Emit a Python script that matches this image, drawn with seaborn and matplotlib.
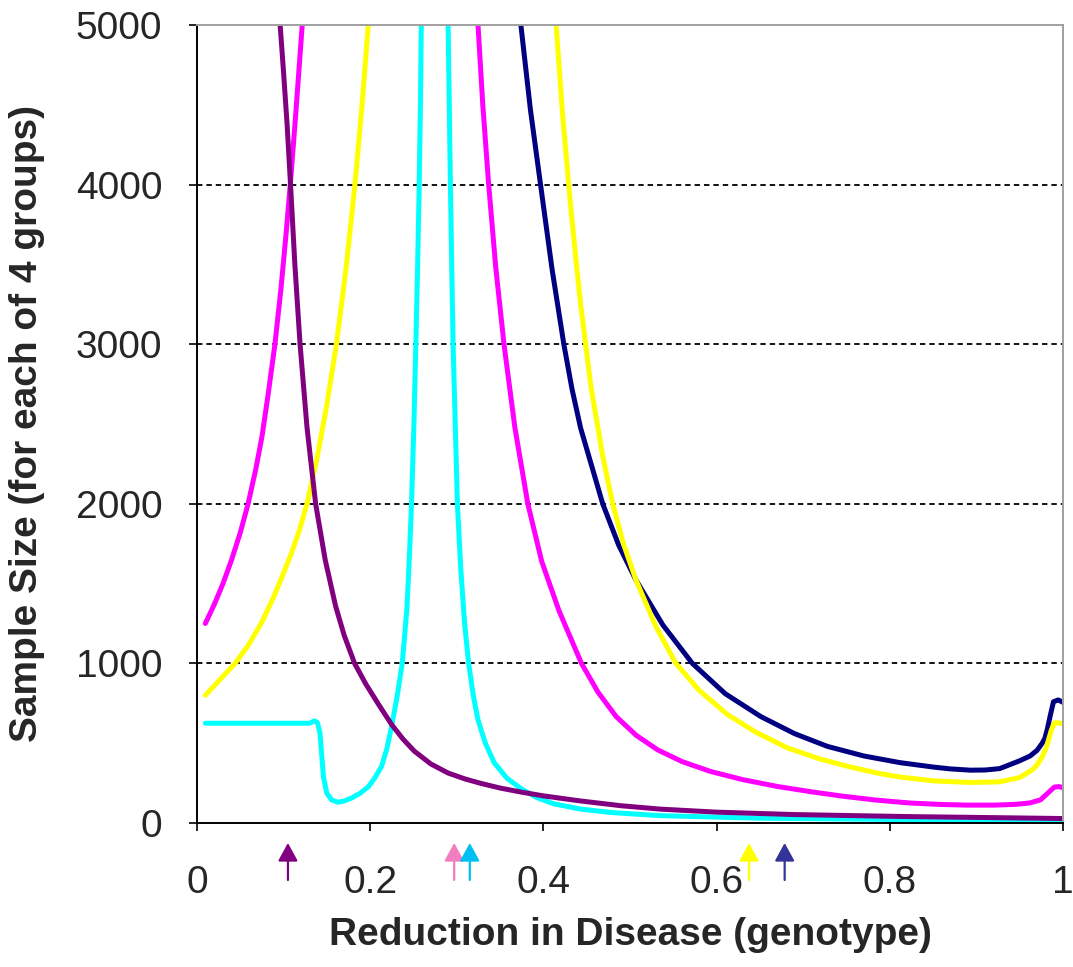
import pandas as pd
import matplotlib
matplotlib.use("Agg")
import matplotlib.pyplot as plt
import seaborn as sns

# curve values (x = reduction in disease, y = sample size)
purple_x = [0.096, 0.100, 0.104, 0.108, 0.113, 0.119, 0.127, 0.137, 0.148, 0.160, 0.170,
            0.182, 0.195, 0.210, 0.225, 0.238, 0.251, 0.270, 0.290, 0.310, 0.328, 0.350,
            0.374, 0.400, 0.443, 0.490, 0.535, 0.600, 0.689, 0.760, 0.824, 0.900, 1.0]
purple_y = [5000, 4700, 4380, 4000, 3500, 3000, 2480, 2000, 1650, 1360, 1175,
            1000, 870, 740, 615, 525, 450, 370, 313, 275, 248, 219,
            194, 170, 138, 108, 87, 68, 53, 46, 40, 35, 28]

magenta_left_x = [0.0096, 0.020, 0.030, 0.040, 0.050, 0.059, 0.068, 0.075, 0.082, 0.090,
                  0.097, 0.103, 0.108, 0.114, 0.1215]
magenta_left_y = [1250, 1370, 1500, 1650, 1820, 2000, 2220, 2420, 2680, 3000,
                  3350, 3700, 4020, 4440, 5000]
magenta_right_x = [0.3245, 0.330, 0.3368, 0.345, 0.3545, 0.367, 0.382, 0.398, 0.418, 0.444,
                   0.463, 0.484, 0.507, 0.532, 0.560, 0.593, 0.630, 0.670, 0.710, 0.747,
                   0.785, 0.824, 0.860, 0.889, 0.920, 0.946, 0.962, 0.974, 0.983, 0.990,
                   0.995, 1.0]
magenta_right_y = [5000, 4500, 4000, 3480, 3000, 2480, 2000, 1640, 1330, 1000,
                   820, 667, 550, 458, 385, 323, 272, 229, 195, 167,
                   143, 125, 116, 112, 112, 117, 126, 145, 190, 225,
                   228, 222]

yellow_left_x = [0.0096, 0.025, 0.044, 0.060, 0.075, 0.088, 0.098, 0.109, 0.118, 0.127,
                 0.138, 0.150, 0.161, 0.172, 0.1824, 0.190, 0.1978]
yellow_left_y = [800, 890, 1000, 1120, 1260, 1410, 1540, 1690, 1830, 2000,
                 2270, 2620, 3000, 3470, 4000, 4460, 5000]
yellow_right_x = [0.4147, 0.422, 0.430, 0.437, 0.443, 0.455, 0.4685, 0.480, 0.493, 0.507,
                  0.530, 0.553, 0.580, 0.6125, 0.645, 0.682, 0.720, 0.755, 0.790, 0.812,
                  0.851, 0.893, 0.927, 0.950, 0.965, 0.970, 0.976, 0.981, 0.9865, 0.990,
                  0.995, 1.0]
yellow_right_y = [5000, 4450, 3950, 3560, 3250, 2730, 2300, 2000, 1740, 1521,
                  1230, 1000, 830, 680, 570, 470, 400, 350, 308, 288,
                  264, 254, 258, 285, 335, 363, 415, 478, 582, 627,
                  628, 619]

navy_x = [0.374, 0.385, 0.3967, 0.410, 0.4236, 0.433, 0.443, 0.4685, 0.487, 0.507, 0.538,
          0.572, 0.610, 0.651, 0.690, 0.728, 0.770, 0.812, 0.851, 0.870, 0.893, 0.910,
          0.927, 0.950, 0.962, 0.970, 0.976, 0.979, 0.982, 0.985, 0.989, 0.9945, 1.0]
navy_y = [5000, 4470, 4000, 3470, 3000, 2720, 2474, 2000, 1740, 1521, 1240,
          1000, 810, 667, 560, 480, 420, 378, 350, 339, 331, 332,
          341, 390, 420, 455, 500, 530, 590, 666, 760, 771, 756]

cyan_left_x = [0.0096, 0.130, 0.1355, 0.139, 0.142, 0.146, 0.1498, 0.1555, 0.163, 0.170,
               0.1786, 0.188, 0.198, 0.205, 0.213, 0.219, 0.2247, 0.231, 0.237, 0.2425,
               0.2455, 0.2477, 0.2505, 0.2527, 0.2548, 0.2566, 0.258, 0.259]
cyan_left_y = [625, 625, 640, 630, 564, 290, 188, 144, 130, 138,
               157, 185, 228, 280, 353, 460, 604, 790, 1000, 1350,
               1700, 2000, 2500, 3000, 3500, 4000, 4500, 5000]
cyan_right_x = [0.290, 0.2926, 0.2957, 0.3007, 0.3045, 0.309, 0.3137, 0.319, 0.3245, 0.333,
                0.3433, 0.358, 0.374, 0.392, 0.412, 0.443, 0.480, 0.535, 0.650, 0.824, 1.0]
cyan_right_y = [5000, 4000, 3000, 2000, 1600, 1250, 1000, 800, 645, 500,
                377, 280, 216, 160, 120, 87, 65, 46, 30, 21, 15]

# marker arrows under the x axis
arrow_x = [0.105, 0.297, 0.315, 0.6375, 0.6786]
arrow_colors = ["#800080", "#F07EC0", "#00BFF3", "#FFFF00", "#333399"]

x_ticks = [0, 0.2, 0.4, 0.6, 0.8, 1]
x_tick_labels = ["0", "0.2", "0.4", "0.6", "0.8", "1"]
y_ticks = [0, 1000, 2000, 3000, 4000, 5000]

sns.set_style("white")
plt.rcParams["font.family"] = ["Liberation Sans", "DejaVu Sans"]

fig = plt.figure(figsize=(10.73, 9.67), dpi=100)
ax = fig.add_axes([197 / 1073, 1 - 823 / 967, 866 / 1073, 798 / 967])

series = [
    (navy_x, navy_y, "#000080"),
    (cyan_left_x, cyan_left_y, "#00FFFF"),
    (cyan_right_x, cyan_right_y, "#00FFFF"),
    (magenta_left_x, magenta_left_y, "#FF00FF"),
    (magenta_right_x, magenta_right_y, "#FF00FF"),
    (yellow_left_x, yellow_left_y, "#FFFF00"),
    (yellow_right_x, yellow_right_y, "#FFFF00"),
    (purple_x, purple_y, "#800080"),
]
for xs, ys, col in series:
    df = pd.DataFrame({"x": xs, "y": ys})
    sns.lineplot(data=df, x="x", y="y", color=col, linewidth=3.6, ax=ax,
                 estimator=None, sort=False, solid_joinstyle="round")

ax.set_xlim(0, 1)
ax.set_ylim(0, 5000)
ax.set_xticks(x_ticks)
ax.set_xticklabels(x_tick_labels)
ax.set_yticks(y_ticks)

ax.grid(axis="y", color="black", linestyle=(0, (3.0, 2.2)), lw=1.3)
gl = ax.get_ygridlines()
gl[0].set_visible(False)
gl[-1].set_visible(False)

for side in ["left", "bottom"]:
    ax.spines[side].set_color("black")
    ax.spines[side].set_linewidth(1.4)
for side in ["top", "right"]:
    ax.spines[side].set_color("#A0A0A0")
    ax.spines[side].set_linewidth(1.4)

ax.tick_params(axis="both", direction="out", length=6, width=1.2, color="black",
               labelsize=28, left=True, bottom=True)
ax.tick_params(axis="y", pad=19)
ax.tick_params(axis="x", pad=24)

ax.set_xlabel("Reduction in Disease (genotype)", fontsize=28, fontweight="bold", labelpad=12)
ax.set_ylabel("Sample Size (for each of 4 groups)", fontsize=28, fontweight="bold", labelpad=22)

for xv, col in zip(arrow_x, arrow_colors):
    ax.annotate("", xy=(xv, -0.025), xytext=(xv, -0.0714),
                xycoords=("data", "axes fraction"), textcoords=("data", "axes fraction"),
                arrowprops=dict(arrowstyle="-|>,head_length=0.55,head_width=0.3",
                                color=col, lw=1.6, shrinkA=0, shrinkB=0, mutation_scale=20),
                annotation_clip=False)

fig.savefig("out.png", dpi=100)
